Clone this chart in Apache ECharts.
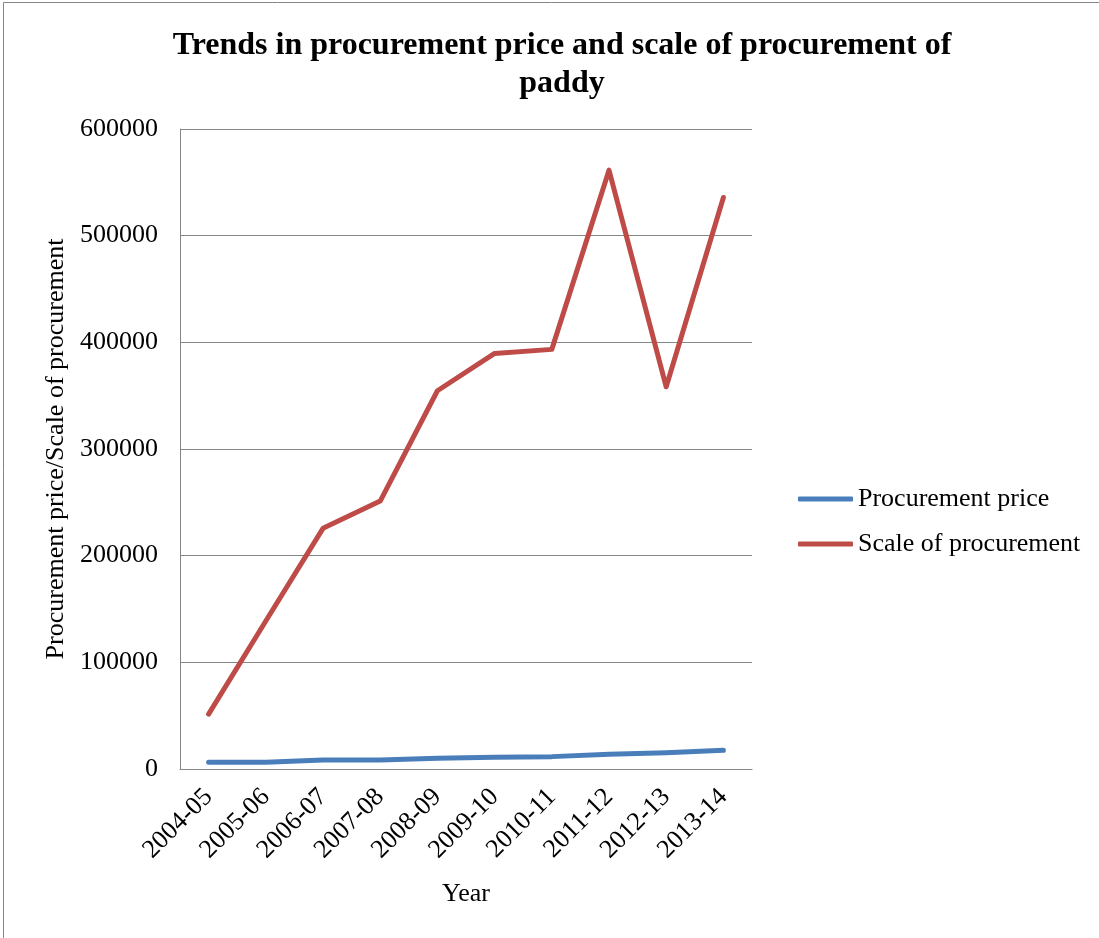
<!DOCTYPE html>
<html>
<head>
<meta charset="utf-8">
<script src="https://cdn.jsdelivr.net/npm/echarts@6/dist/echarts.min.js"></script>
<style>
  html, body { margin: 0; padding: 0; background: #fff; }
  #chart { width: 1099px; height: 938px; }
</style>
</head>
<body>
<div id="chart"></div>
<script>
// Paddy procurement: price and scale by crop year
const years = ['2004-05', '2005-06', '2006-07', '2007-08', '2008-09',
               '2009-10', '2010-11', '2011-12', '2012-13', '2013-14'];
const procurementPrice = [6300, 6300, 8400, 8400, 10000, 11000, 11600, 13800, 15300, 17500];
const scaleOfProcurement = [51500, 138700, 225600, 251200, 354600, 389600, 393400, 561400, 358300, 535800];
const yTicks = { min: 0, max: 600000, interval: 100000 };

const serif = '"Liberation Serif", "DejaVu Serif", serif';
const axisGray = '#868686';

const chart = echarts.init(document.getElementById('chart'), null, { renderer: 'canvas' });

chart.setOption({
  backgroundColor: '#ffffff',
  animation: false,
  title: {
    text: 'Trends in procurement price and scale of procurement of\npaddy',
    left: 557,
    top: 22,
    textAlign: 'center',
    textStyle: {
      fontFamily: serif,
      fontSize: 32,
      fontWeight: 'bold',
      color: '#000',
      lineHeight: 38
    }
  },
  graphic: [{
    type: 'rect',
    shape: { x: 3.5, y: 2.5, width: 1200, height: 1000 },
    style: { fill: 'none', stroke: axisGray, lineWidth: 1 },
    silent: true
  }],
  legend: {
    orient: 'vertical',
    left: 793,
    top: 481,
    itemWidth: 55,
    itemHeight: 5,
    itemGap: 19,
    icon: 'roundRect',
    textStyle: { fontFamily: serif, fontSize: 26, color: '#000' },
    data: ['Procurement price', 'Scale of procurement']
  },
  grid: { left: 180, right: 347, top: 129, bottom: 169, containLabel: false },
  xAxis: {
    type: 'category',
    data: years,
    boundaryGap: true,
    name: 'Year',
    nameLocation: 'middle',
    nameGap: 112,
    nameTextStyle: { fontFamily: serif, fontSize: 26, color: '#000' },
    axisLine: { show: true, lineStyle: { color: axisGray, width: 1 } },
    axisTick: { show: false },
    axisLabel: {
      rotate: 45,
      interval: 0,
      margin: 24,
      fontFamily: serif,
      fontSize: 26,
      color: '#000'
    }
  },
  yAxis: {
    type: 'value',
    min: yTicks.min,
    max: yTicks.max,
    interval: yTicks.interval,
    name: 'Procurement price/Scale of procurement',
    nameLocation: 'middle',
    nameGap: 110,
    nameTextStyle: { fontFamily: serif, fontSize: 26, color: '#000' },
    axisLine: { show: true, lineStyle: { color: axisGray, width: 1 } },
    axisTick: { show: false },
    splitLine: { show: true, lineStyle: { color: axisGray, width: 1 } },
    axisLabel: {
      margin: 22,
      fontFamily: serif,
      fontSize: 26,
      color: '#000',
      formatter: (v) => String(v)
    }
  },
  series: [
    {
      name: 'Procurement price',
      type: 'line',
      data: procurementPrice,
      symbol: 'none',
      lineStyle: { color: '#4A7EBB', width: 5, cap: 'round', join: 'round' },
      itemStyle: { color: '#4A7EBB' }
    },
    {
      name: 'Scale of procurement',
      type: 'line',
      data: scaleOfProcurement,
      symbol: 'none',
      lineStyle: { color: '#BE4B48', width: 5, cap: 'round', join: 'round' },
      itemStyle: { color: '#BE4B48' }
    }
  ]
});
</script>
</body>
</html>
